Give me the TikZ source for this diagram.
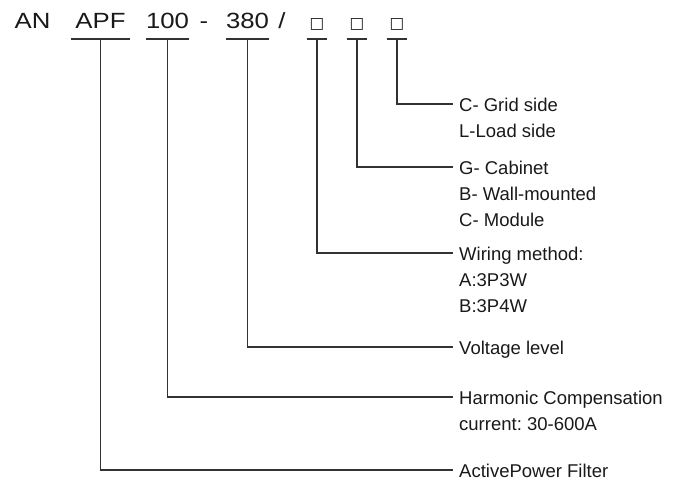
\documentclass[tikz,border=0pt]{standalone}
\usepackage{fontspec}
\setmainfont{Liberation Sans}
\newfontfamily\codefont[FakeStretch=1.17]{Liberation Sans}
\newfontfamily\boxfont{DejaVu Sans}
\usetikzlibrary{calc,positioning}
\definecolor{legline}{RGB}{50,50,50}
\definecolor{txtdark}{RGB}{25,25,25}
\frenchspacing

\begin{document}
\begin{tikzpicture}[x=1pt,y=-1pt,
    code/.style={font=\codefont\fontsize{22}{26}\selectfont,text=txtdark,inner sep=0pt,anchor=base},
    part/.style={code,minimum width=#1},
    desc/.style={font=\fontsize{18.5}{26}\selectfont,text=txtdark,align=left,inner sep=0pt,anchor=north west},
    leg/.style={draw=legline,line width=1.3pt}]
    \useasboundingbox (0,0) rectangle (681,481);
    % Typenbezeichnung
    \node[code] (an) at (32.5,28.5) {AN};
    \node[part=58pt] (apf) at (100.5,28.5) {APF};
    \node[part=40pt] (cur) at (167.5,28.5) {100};
    \node[code] (dash) at (204,28.5) {-};
    \node[part=41pt] (volt) at (247.5,28.5) {380};
    \node[code] (slash) at (282,28.5) {/};
    \foreach \n/\x in {wire/317,mount/357,side/397}{
      \node[part=20pt] (\n) at (\x,28.5) {\boxfont\fontsize{15.5}{18}\selectfont □};
    }
    % Unterstriche und Fuehrungslinien
    \foreach \n/\y in {side/104,mount/167,wire/253,volt/347,cur/397,apf/470}{
      \draw[leg] ([yshift=-10.5pt]\n.base west) -- ([yshift=-10.5pt]\n.base east);
      \coordinate (\n-end) at (453,\y);
      \draw[leg] ([yshift=-10.5pt]\n.base) |- (\n-end);
    }
    % Erlaeuterungen
    \node[desc] (side-txt) at ([xshift=6pt,yshift=6.3pt]side-end) {C- Grid side\\L-Load side};
    \node[desc] (mount-txt) at ([xshift=6pt,yshift=6.3pt]mount-end) {G- Cabinet\\B- Wall-mounted\\C- Module};
    \node[desc] (wire-txt) at ([xshift=6pt,yshift=6.3pt]wire-end) {Wiring method:\\A:3P3W\\B:3P4W};
    \node[desc] (volt-txt) at ([xshift=6pt,yshift=6.3pt]volt-end) {Voltage level};
    \node[desc] (cur-txt) at ([xshift=6pt,yshift=6.3pt]cur-end) {Harmonic Compensation\\current: 30-600A};
    \node[desc] (apf-txt) at ([xshift=6pt,yshift=6.3pt]apf-end) {ActivePower Filter};
\end{tikzpicture}
\end{document}
